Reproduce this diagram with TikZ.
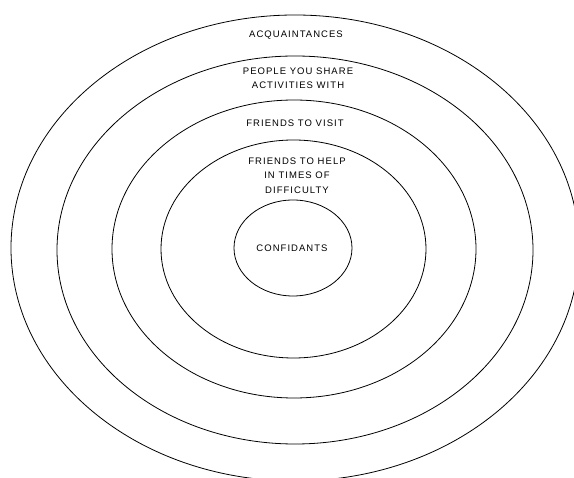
\documentclass[tikz,border=0pt]{standalone}
\usepackage{fontspec}
\newfontfamily\labfont[LetterSpace=11]{Liberation Sans}
\begin{document}
\begin{tikzpicture}[x=1pt,y=-1pt,
  ring/.style={draw=black, line width=0.8pt},
  lab/.style={font=\labfont\fontsize{9.5}{14.5}\selectfont, align=center, inner sep=0pt, text=black}]
\useasboundingbox (0,0) rectangle (574,478);
\clip (0,0) rectangle (574,478);
% rings
\draw[ring] (295,248) ellipse [x radius=284, y radius=233];
\draw[ring] (295,250) ellipse [x radius=238, y radius=194];
\draw[ring] (294,249) ellipse [x radius=182, y radius=149];
\draw[ring] (293.5,249) ellipse [x radius=132.5, y radius=109];
\draw[ring] (293,248) ellipse [x radius=59, y radius=48];
% labels
\node[lab] (acq) at (296,35) {ACQUAINTANCES};
\node[lab] (act) at (298,78) {PEOPLE YOU SHARE\\ACTIVITIES WITH};
\node[lab] (vis) at (295,123) {FRIENDS TO VISIT};
\node[lab] (hlp) at (297,175.5) {FRIENDS TO HELP\\IN TIMES OF\\DIFFICULTY};
\node[lab] (con) at (292,248) {CONFIDANTS};
\end{tikzpicture}
\end{document}
